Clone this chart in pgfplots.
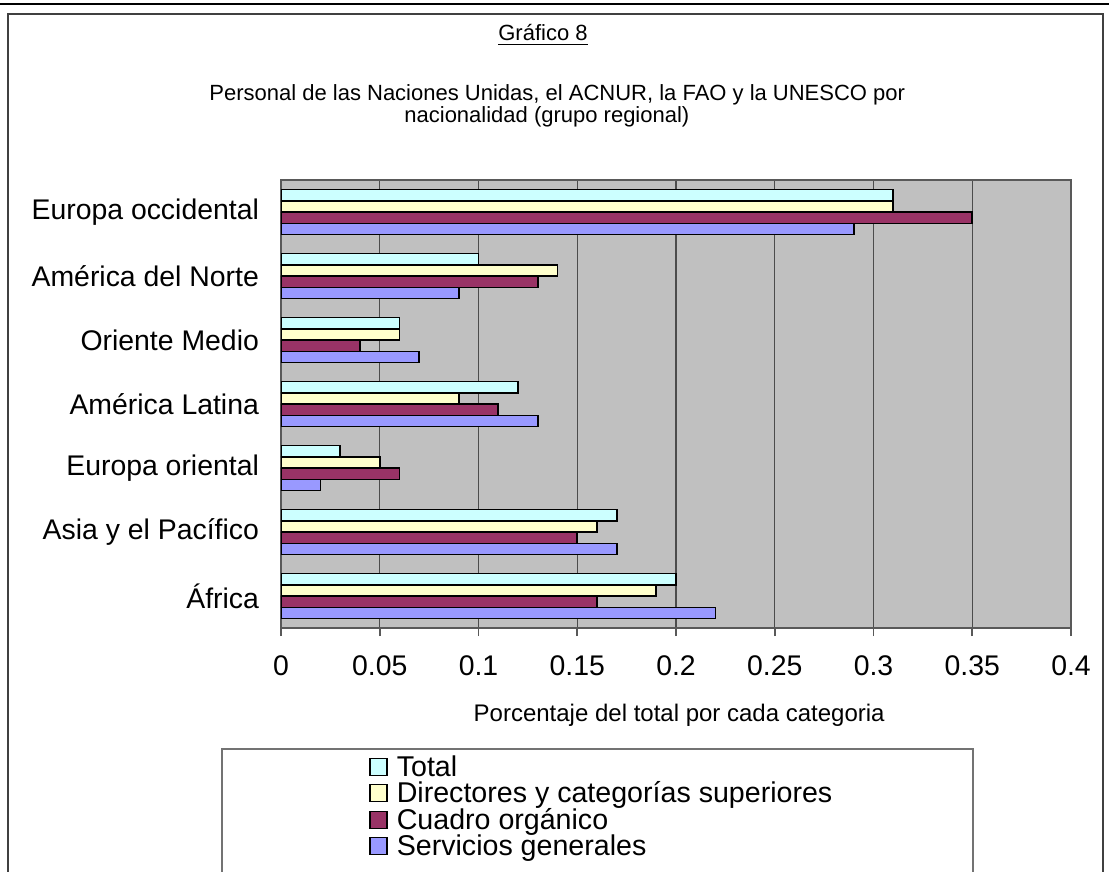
\documentclass[border=0pt]{standalone}
\usepackage{pgfplots}
\usepackage{pgfplotstable}
\pgfplotsset{compat=1.18}
\usepackage{fontspec}
\setmainfont{Liberation Sans}

\definecolor{cTotal}{HTML}{CCFFFF}
\definecolor{cDir}{HTML}{FFFFCC}
\definecolor{cCuadro}{HTML}{993366}
\definecolor{cServ}{HTML}{9999FF}
\definecolor{plotbg}{HTML}{C0C0C0}

% share of staff by regional group (0 = Europa occidental ... 6 = Africa)
\pgfplotstableread{
idx total dir   cuadro serv
0   0.31  0.31  0.35   0.29
1   0.10  0.14  0.13   0.09
2   0.06  0.06  0.04   0.07
3   0.12  0.09  0.11   0.13
4   0.03  0.05  0.06   0.02
5   0.17  0.16  0.15   0.17
6   0.20  0.19  0.16   0.22
}\staffdata

\begin{document}
\begin{tikzpicture}
\useasboundingbox (0,0) rectangle (554.5pt,-436pt);
% page frame
\fill[black] (0,-1.4pt) rectangle (554.5pt,-2.5pt);
\draw[black!75, line width=1pt] (4pt,-437pt) -- (4pt,-7pt) -- (551.5pt,-7pt) -- (551.5pt,-437pt);
% titles
\node[font=\fontsize{11}{13}\selectfont, inner sep=0pt, anchor=base] at (271.5pt,-20.5pt) {\underline{Gráfico 8}};
\node[font=\fontsize{11}{13}\selectfont, inner sep=0pt, anchor=base west] at (104.5pt,-50.5pt) {Personal de las Naciones Unidas, el ACNUR, la FAO y la UNESCO por};
\node[font=\fontsize{11}{13}\selectfont, inner sep=0pt, anchor=base west] at (202pt,-61.5pt) {nacionalidad (grupo regional)};
% legend box
\draw[black!55, line width=0.8pt] (111pt,-437pt) -- (111pt,-374.5pt) -- (486.5pt,-374.5pt) -- (486.5pt,-437pt);

\begin{axis}[
    at={(140.5pt,-314pt)}, anchor=south west,
    scale only axis,
    width=395pt, height=224pt,
    xbar,
    bar width=5.65pt,
    xmin=0, xmax=0.4,
    ymin=-0.5, ymax=6.5,
    y dir=reverse,
    axis background/.style={fill=plotbg},
    axis line style={black!65, line width=0.8pt},
    xmajorgrids,
    major grid style={black!70, line width=0.7pt},
    xtick={0,0.05,0.1,0.15,0.2,0.25,0.3,0.35,0.4},
    xticklabels={0,0.05,0.1,0.15,0.2,0.25,0.3,0.35,0.4},
    ytick={0,1,2,3,4,5,6},
    yticklabels={Europa occidental,América del Norte,Oriente Medio,América Latina,Europa oriental,Asia y el Pacífico,África},
    minor ytick={-0.5,0.5,1.5,2.5,3.5,4.5,5.5,6.5},
    tick align=outside,
    xtick pos=bottom, ytick pos=left,
    major tick length=4pt,
    ytick style={draw=none},
    minor tick length=4pt,
    minor tick style={black!65, line width=0.8pt},
    xtick style={black!65, line width=0.8pt},
    /pgf/number format/assume math mode=true,
    ticklabel style={font=\fontsize{14.2}{16}\selectfont},
    yticklabel style={xshift=-3.5pt},
    xticklabel style={yshift=-6.5pt},
    xlabel={Porcentaje del total por cada categoria},
    xlabel style={at={(axis description cs:0.7646,-0.2098)}, anchor=base east, inner sep=0pt, font=\fontsize{12}{14}\selectfont},
    every axis plot/.append style={draw=black, line width=0.8pt},
    legend style={at={(axis description cs:0.1038,-0.277)}, anchor=north west, draw=none, fill=none,
        font=\fontsize{14.3}{14}\selectfont,
        nodes={inner sep=0pt, text height=10pt, text depth=3.2pt},
        row sep=0pt},
    legend cell align=left,
    legend image code/.code={\draw[#1, line width=0.6pt] (0pt,-2.8pt) rectangle (8.5pt,5.7pt); \path (13pt,0pt);},
]
\addplot[fill=cTotal, bar shift=8.475pt] table[y=idx, x=total] {\staffdata};
\addplot[fill=cDir, bar shift=2.825pt] table[y=idx, x=dir] {\staffdata};
\addplot[fill=cCuadro, bar shift=-2.825pt] table[y=idx, x=cuadro] {\staffdata};
\addplot[fill=cServ, bar shift=-8.475pt] table[y=idx, x=serv] {\staffdata};
\legend{Total,Directores y categorías superiores,Cuadro orgánico,Servicios generales}
\end{axis}
\end{tikzpicture}
\end{document}
